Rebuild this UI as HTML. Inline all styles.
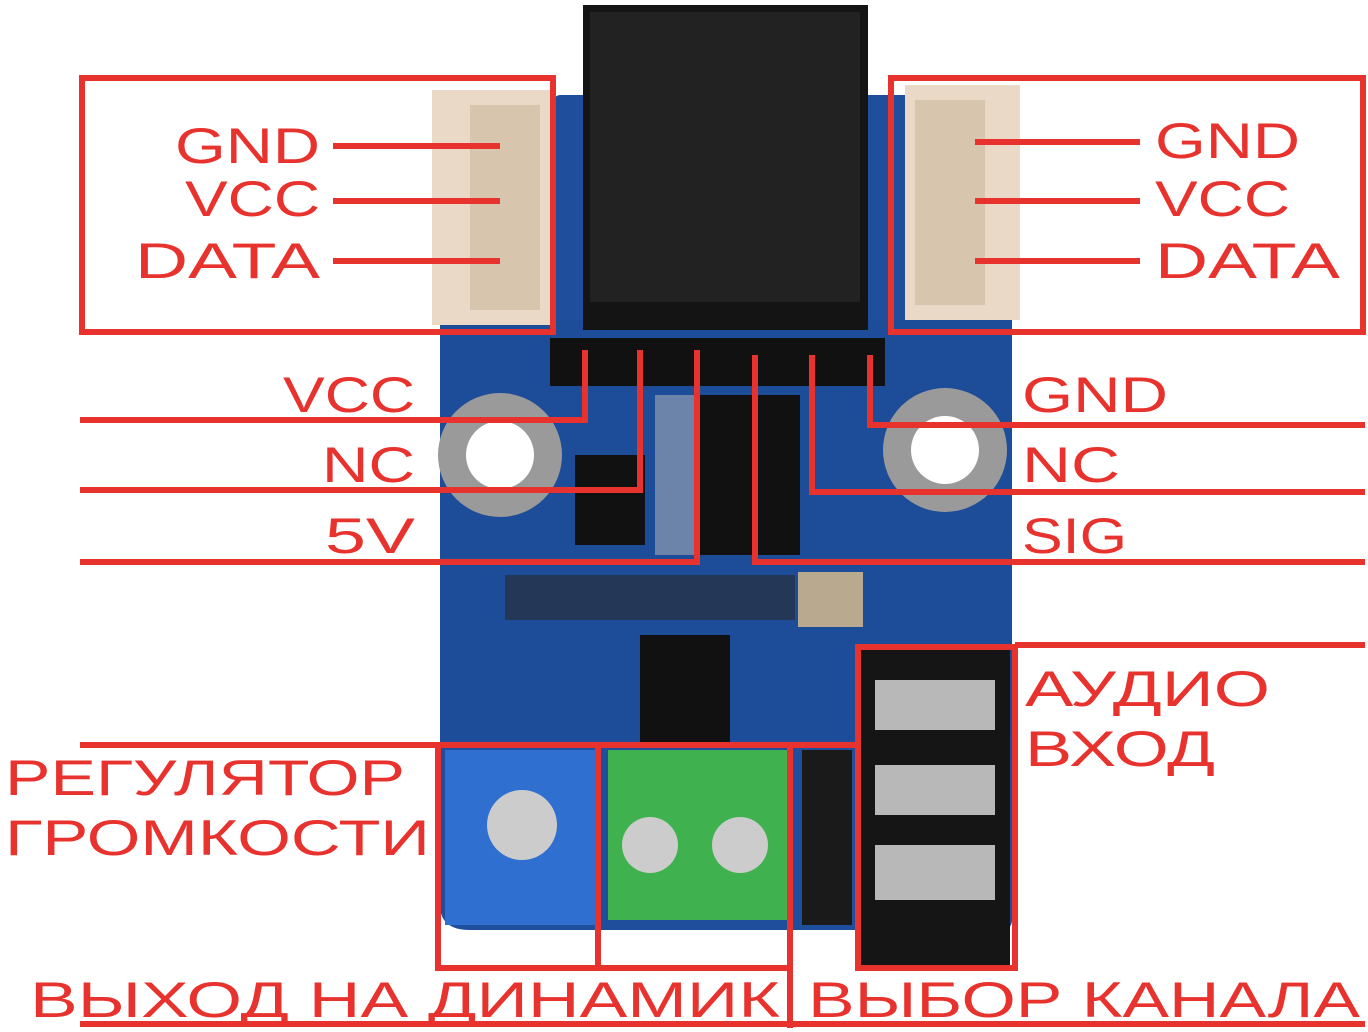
<!DOCTYPE html>
<html><head><meta charset="utf-8"><style>html,body{margin:0;padding:0;background:#fff}svg{display:block}</style></head>
<body>
<svg width="1368" height="1032" viewBox="0 0 1368 1032" xmlns="http://www.w3.org/2000/svg">
<!-- PCB -->
<path d="M560 95 H880 L1005 95 Q1012 95 1012 105 V920 Q1012 930 1000 930 H470 Q440 930 440 905 V330 H555 V100 Q555 95 560 95Z" fill="#1f4f9c"/>
<rect x="440" y="320" width="572" height="420" fill="#1d4c98"/>
<!-- mounting holes -->
<circle cx="500" cy="455" r="62" fill="#9a9a9a"/><circle cx="500" cy="455" r="34" fill="#fff"/>
<circle cx="945" cy="450" r="62" fill="#9a9a9a"/><circle cx="945" cy="450" r="34" fill="#fff"/>
<!-- top black connector -->
<rect x="583" y="5" width="285" height="325" fill="#141414"/>
<rect x="590" y="12" width="270" height="290" fill="#222"/>
<!-- white connectors -->
<rect x="432" y="90" width="118" height="235" fill="#e9d9c6"/>
<rect x="470" y="105" width="70" height="205" fill="#d8c5ae"/>
<rect x="905" y="85" width="115" height="235" fill="#e9d9c6"/>
<rect x="915" y="100" width="70" height="205" fill="#d8c5ae"/>
<!-- headers -->
<rect x="550" y="338" width="335" height="48" fill="#111"/>
<!-- chips -->
<rect x="700" y="395" width="100" height="160" fill="#111"/>
<rect x="575" y="455" width="70" height="90" fill="#111"/>
<rect x="640" y="635" width="90" height="110" fill="#111"/>
<rect x="655" y="395" width="40" height="160" fill="#bbb" opacity=".5"/>
<rect x="505" y="575" width="290" height="45" fill="#2a2a2a" opacity=".6"/>
<rect x="798" y="572" width="65" height="55" fill="#b9a98f"/>
<!-- pot -->
<rect x="445" y="750" width="150" height="175" fill="#2f6fd0"/>
<circle cx="522" cy="825" r="35" fill="#ccc"/>
<!-- terminal -->
<rect x="608" y="750" width="180" height="170" fill="#3fb24f"/>
<circle cx="650" cy="845" r="28" fill="#ccc"/><circle cx="740" cy="845" r="28" fill="#ccc"/>
<!-- channel selector -->
<rect x="802" y="750" width="50" height="175" fill="#1a1a1a"/>
<!-- jack -->
<rect x="860" y="650" width="150" height="315" fill="#151515"/>
<rect x="875" y="680" width="120" height="50" fill="#b8b8b8"/>
<rect x="875" y="765" width="120" height="50" fill="#b8b8b8"/>
<rect x="875" y="845" width="120" height="55" fill="#b8b8b8"/>

<g fill="none" stroke="#e8322e" stroke-width="6">
<rect x="82" y="78" width="471" height="254"/>
<rect x="891" y="78" width="472" height="254"/>
<path d="M333 146H500M333 201H500M333 261H500"/>
<path d="M975 142H1140M975 201H1140M975 261H1140"/>
<path d="M80 420H585V350M80 490H640V350M80 562H697V350"/>
<path d="M1365 425H870V355M1365 492H812V355M1365 562H755V355"/>
<path d="M1015 645H1365"/>
<rect x="858" y="647" width="157" height="321"/>
<path d="M80 745H855"/>
<rect x="438" y="745" width="160" height="223"/>
<rect x="598" y="745" width="192" height="223"/>
<path d="M790 745V1028M80 1024H1365"/>
</g>
<g fill="#e8322e" font-family="Liberation Sans, sans-serif" font-size="50" lengthAdjust="spacingAndGlyphs">
<text x="175" y="163" textLength="145" lengthAdjust="spacingAndGlyphs">GND</text>
<text x="185" y="216" textLength="135" lengthAdjust="spacingAndGlyphs">VCC</text>
<text x="135" y="278" textLength="185" lengthAdjust="spacingAndGlyphs">DATA</text>
<text x="1155" y="158" textLength="145" lengthAdjust="spacingAndGlyphs">GND</text>
<text x="1155" y="216" textLength="135" lengthAdjust="spacingAndGlyphs">VCC</text>
<text x="1155" y="278" textLength="185" lengthAdjust="spacingAndGlyphs">DATA</text>
<text x="283" y="412" textLength="132" lengthAdjust="spacingAndGlyphs">VCC</text>
<text x="322" y="482" textLength="93" lengthAdjust="spacingAndGlyphs">NC</text>
<text x="325" y="553" textLength="90" lengthAdjust="spacingAndGlyphs">5V</text>
<text x="1022" y="412" textLength="146" lengthAdjust="spacingAndGlyphs">GND</text>
<text x="1022" y="482" textLength="98" lengthAdjust="spacingAndGlyphs">NC</text>
<text x="1022" y="553" textLength="105" lengthAdjust="spacingAndGlyphs">SIG</text>
<text x="1025" y="706" textLength="245" lengthAdjust="spacingAndGlyphs">АУДИО</text>
<text x="1025" y="766" textLength="190" lengthAdjust="spacingAndGlyphs">ВХОД</text>
<text x="5" y="795" textLength="400" lengthAdjust="spacingAndGlyphs">РЕГУЛЯТОР</text>
<text x="5" y="855" textLength="425" lengthAdjust="spacingAndGlyphs">ГРОМКОСТИ</text>
<text x="30" y="1017" textLength="750" lengthAdjust="spacingAndGlyphs">ВЫХОД НА ДИНАМИК</text>
<text x="808" y="1017" textLength="552" lengthAdjust="spacingAndGlyphs">ВЫБОР КАНАЛА</text>
</g>
</svg>
</body></html>
